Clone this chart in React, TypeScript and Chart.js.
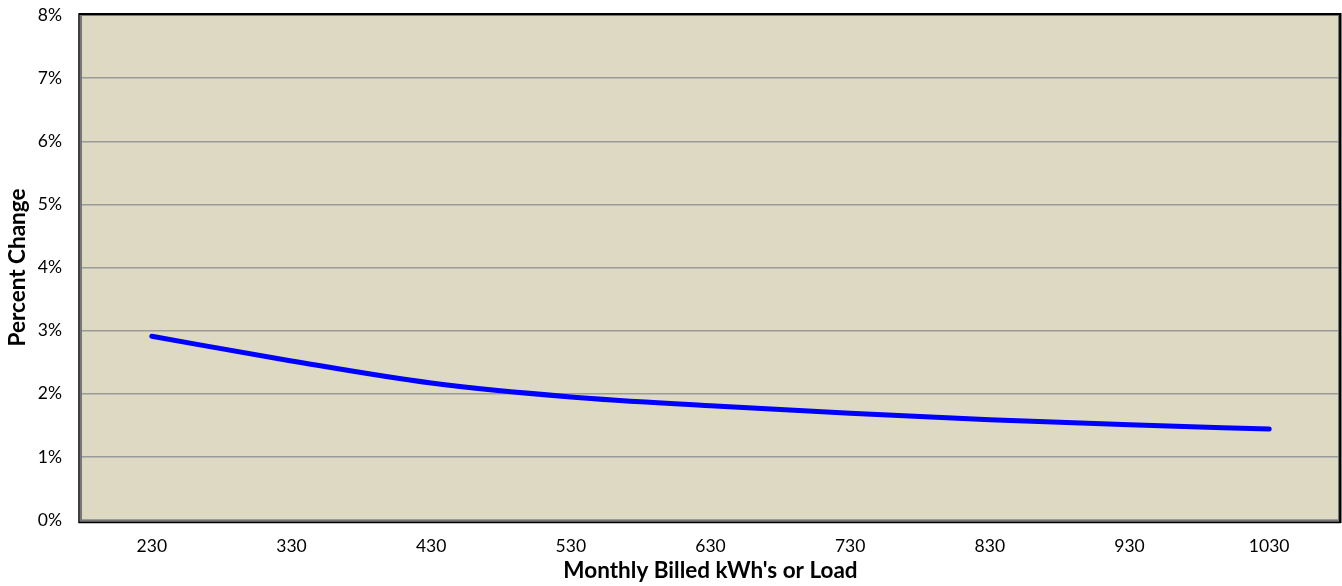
import React, { useEffect, useRef } from "react";
import { Chart, registerables } from "chart.js";

Chart.register(...registerables);

const kwhLoads = [230, 330, 430, 530, 630, 730, 830, 930, 1030];
const percentChange = [2.91, 2.52, 2.17, 1.95, 1.81, 1.69, 1.59, 1.51, 1.44];
const yTickValues = [0, 1, 2, 3, 4, 5, 6, 7, 8];
const xTitle = "Monthly Billed kWh's or Load";
const yTitle = "Percent Change";

const plotAreaPlugin = {
  id: "plotArea",
  beforeDraw(chart: any) {
    const { ctx, chartArea: a } = chart;
    ctx.save();
    ctx.fillStyle = "#DDD9C3";
    ctx.fillRect(a.left, a.top, a.right - a.left, a.bottom - a.top);
    ctx.restore();
  },
  afterDraw(chart: any) {
    const { ctx, chartArea: a } = chart;
    ctx.save();
    ctx.strokeStyle = "#777777";
    ctx.lineWidth = 2;
    ctx.strokeRect(a.left - 1, a.top - 0, a.right - a.left + 1, a.bottom - a.top + 1);
    ctx.strokeStyle = "#000000";
    ctx.lineWidth = 1.5;
    ctx.strokeRect(a.left - 3, a.top - 1, a.right - a.left + 4, a.bottom - a.top + 3.5);
    ctx.lineWidth = 2;
    ctx.beginPath();
    ctx.moveTo(a.left - 3, a.top - 1);
    ctx.lineTo(a.right + 1.5, a.top - 1);
    ctx.lineTo(a.right + 1.5, a.bottom + 3);
    ctx.stroke();
    ctx.restore();
  },
};

export default function App() {
  const ref = useRef<HTMLCanvasElement | null>(null);

  useEffect(() => {
    if (!ref.current) return;
    const points = kwhLoads.map((x, i) => ({ x, y: percentChange[i] }));
    const chart = new Chart(ref.current, {
      type: "line",
      data: {
        datasets: [
          {
            data: points,
            borderColor: "#0000FF",
            borderWidth: 5,
            borderCapStyle: "round",
            borderJoinStyle: "round",
            pointRadius: 0,
            cubicInterpolationMode: "monotone",
            fill: false,
          },
        ],
      },
      options: {
        animation: false,
        responsive: false,
        maintainAspectRatio: false,
        layout: { padding: { top: 15, right: 3, left: 0, bottom: 0 } },
        plugins: {
          legend: { display: false },
          tooltip: { enabled: false },
        },
        scales: {
          x: {
            type: "linear",
            min: 180,
            max: 1080,
            afterBuildTicks: (scale: any) => {
              scale.ticks = kwhLoads.map((v) => ({ value: v }));
            },
            afterFit: (scale: any) => {
              scale.height = 66;
              scale.paddingLeft = 0;
              scale.paddingRight = 0;
            },
            grid: { display: false, drawTicks: false },
            border: { display: false },
            ticks: {
              autoSkip: false,
              maxRotation: 0,
              padding: 16,
              color: "#000",
              font: { family: "Lato", size: 17.5 },
              callback: (v: any) => String(v),
            },
            title: {
              display: true,
              text: xTitle,
              color: "#000",
              font: { family: "Lato", size: 22.5, weight: "bold" },
              padding: { top: 0, bottom: 1.5 },
            },
          },
          y: {
            min: 0,
            max: 8,
            afterBuildTicks: (scale: any) => {
              scale.ticks = yTickValues.map((v) => ({ value: v }));
            },
            afterFit: (scale: any) => {
              scale.width = 82;
              scale.paddingTop = 0;
              scale.paddingBottom = 0;
            },
            grid: {
              color: "#9A9A9A",
              lineWidth: 1.5,
              drawTicks: false,
            },
            border: { display: false },
            ticks: {
              padding: 20,
              color: "#000",
              font: { family: "Lato", size: 17.5 },
              callback: (v: any) => v + "%",
            },
            title: {
              display: true,
              text: yTitle,
              color: "#000",
              font: { family: "Lato", size: 22.5, weight: "bold" },
              padding: { top: 4.5, bottom: 0 },
            },
          },
        },
      },
      plugins: [plotAreaPlugin],
    });
    return () => chart.destroy();
  }, []);

  return (
    <div style={{ position: "absolute", left: 0, top: 0, width: 1342, height: 586 }}>
      <canvas ref={ref} width={1342} height={586} style={{ display: "block" }} />
    </div>
  );
}
